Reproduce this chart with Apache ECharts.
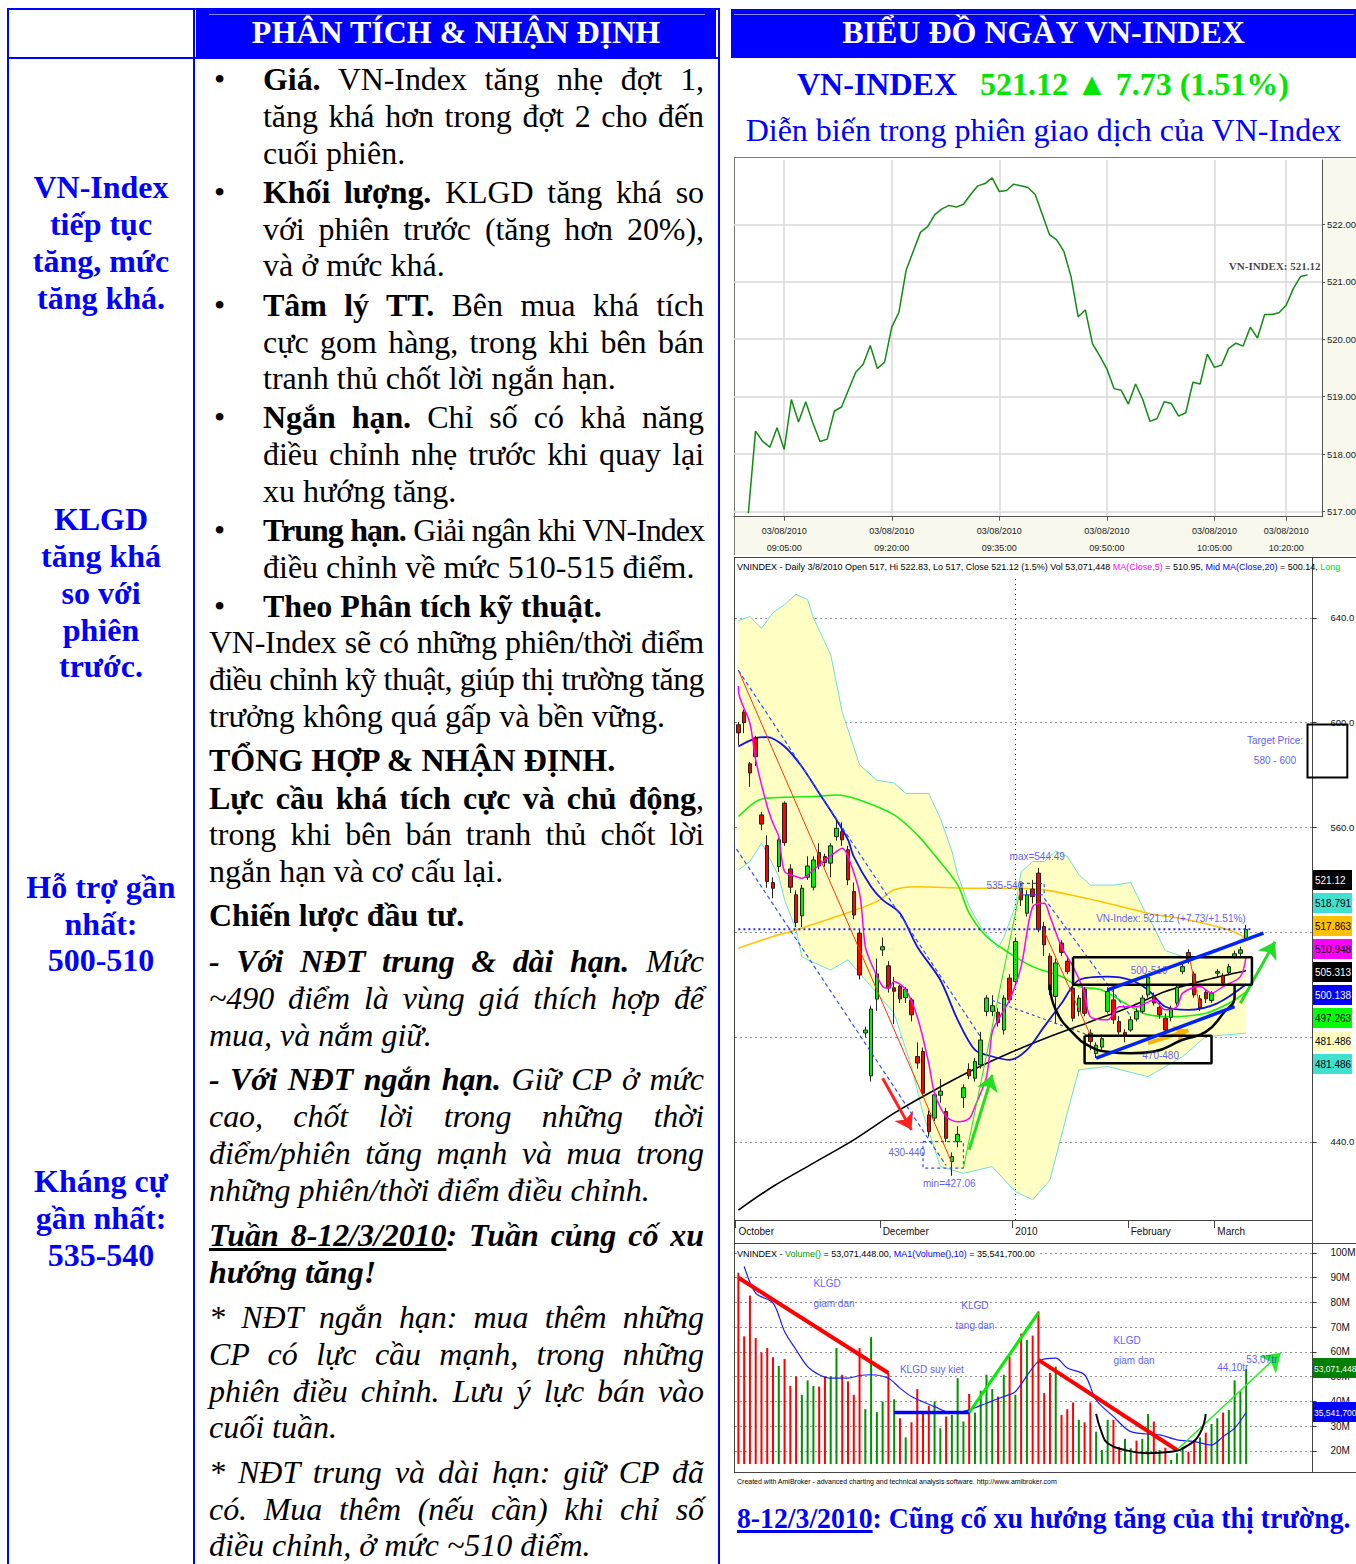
<!DOCTYPE html>
<html lang="vi">
<head>
<meta charset="utf-8">
<title>VN-Index</title>
<script src="https://cdn.jsdelivr.net/npm/echarts@6.0.0/dist/echarts.min.js"></script>
<style>
html,body{margin:0;padding:0;}
body{width:1356px;height:1564px;overflow:hidden;position:relative;background:#fff;font-family:'Liberation Serif','Times New Roman',serif;}
.t{position:absolute;font-family:'Liberation Serif','Times New Roman',serif;font-size:32px;line-height:37px;white-space:nowrap;color:#000;}
.j{text-align:justify;text-align-last:justify;}
.c1{position:absolute;left:8px;width:186px;text-align:center;font-family:'Liberation Serif','Times New Roman',serif;font-size:32px;line-height:37px;font-weight:bold;color:#0000ff;white-space:nowrap;}
.bx{position:absolute;}
.hdt{position:absolute;color:#fff;font-family:'Liberation Serif','Times New Roman',serif;font-weight:bold;font-size:32px;line-height:37px;text-align:center;white-space:nowrap;}
</style>
</head>
<body>
<div class="bx" style="left:7px;top:8px;width:712px;height:2px;background:#0000ff"></div>
<div class="bx" style="left:7px;top:8px;width:2px;height:1556px;background:#0000ff"></div>
<div class="bx" style="left:193px;top:8px;width:2px;height:1556px;background:#0000ff"></div>
<div class="bx" style="left:718px;top:8px;width:2px;height:1556px;background:#0000ff"></div>
<div class="bx" style="left:7px;top:57px;width:712px;height:2px;background:#0000ff"></div>
<div class="bx" style="left:196px;top:10px;width:520px;height:47px;background:#0000ff"></div>
<div class="bx" style="left:731px;top:9px;width:625px;height:49px;background:#0000ff"></div>
<div class="bx" style="left:209px;top:14px;width:496px;height:1px;background:#8a8ad8"></div>
<div class="bx" style="left:734px;top:14px;width:620px;height:1px;background:#8a8ad8"></div>
<div class="hdt" style="left:196px;width:520px;top:14px">PHÂN TÍCH &amp; NHẬN ĐỊNH</div>
<div class="hdt" style="left:731px;width:625px;top:14px">BIỂU ĐỒ NGÀY VN-INDEX</div>

<div class="t" style="left:797px;top:66px;font-weight:bold;color:#0000ff">VN-INDEX</div>
<div class="t" style="left:980px;top:66px;font-weight:bold;color:#00e600">521.12 ▲ 7.73 (1.51%)</div>
<div class="t" style="left:731px;width:625px;top:112px;text-align:center;color:#0000ff">Diễn biến trong phiên giao dịch của VN-Index</div>

<div class="bx" style="left:734px;top:157px;width:622px;height:398px;background:#f8f8ec;border-top:1px solid #777;border-left:1px solid #777;box-sizing:border-box"></div>
<div class="bx" style="left:735px;top:158px;width:588px;height:358px;background:#fff"></div>
<div class="bx" style="left:734px;top:557px;width:622px;height:916px;background:#fff;border-top:1px solid #444;border-left:1px solid #444;border-bottom:1px solid #444;box-sizing:border-box"></div>
<div class="bx" style="left:734px;top:1243px;width:622px;height:1px;background:#444"></div>
<div class="bx" style="left:1312px;top:557px;width:1px;height:915px;background:#444"></div>

<div id="chart" style="position:absolute;left:733px;top:155px;width:623px;height:1340px;"></div>

<div id="foot" style="position:absolute;left:737px;top:1500px;font-family:'Liberation Serif','Times New Roman',serif;font-size:30px;line-height:36px;font-weight:bold;color:#0000ff;white-space:nowrap;transform-origin:left center"><u>8-12/3/2010</u>: Cũng cố xu hướng tăng của thị trường.</div>

<script>
// ---------------- DATA ----------------
const intradayValues = [516.97,518.40,518.22,518.12,518.46,518.08,518.95,518.56,518.91,518.54,518.22,518.26,518.75,518.82,519.13,519.43,519.56,519.89,519.49,519.60,520.21,520.47,521.20,521.53,521.86,521.96,522.17,522.27,522.33,522.30,522.35,522.52,522.67,522.71,522.81,522.57,522.59,522.70,522.67,522.64,522.52,522.17,521.82,521.73,521.53,521.09,520.39,520.51,519.92,519.71,519.48,519.14,519.11,518.87,519.22,518.95,518.57,518.62,518.91,518.88,518.66,518.72,519.25,519.22,519.74,519.51,519.55,519.84,519.93,519.88,520.21,520.02,520.43,520.43,520.46,520.59,520.88,521.09,521.12];
const intradayTickIdx = [5,20,35,50,65,75];
const intradayTickTimes = ['09:05:00','09:20:00','09:35:00','09:50:00','10:05:00','10:20:00'];
const intradayDate = '03/08/2010';
const intradayYTicks = [517,518,519,520,521,522];

// [open, close, low, high]
const dailyOHLC = [
 [599.2,596.1,591.5,600.3],[604.1,600.0,596,605],[584.3,580.8,575.5,585],[594.2,587.0,583.5,595],[564.8,561.3,559,566],
 [553.1,539.4,537,557],[539.0,536.8,533,541],[545.1,555.3,543,556],[569.3,554.2,553,570],[544.2,537.2,535,546],
 [534.3,523.7,522,536],[526.3,536.8,522,538],[541.0,545.3,540,549],[537.2,547.6,536,549],[550.4,545.3,544,554],
 [548.9,546.6,545,550],[546.4,553.0,541,554],[556.5,559.7,555,563],[558.4,555.3,553,562],[551.5,540.0,538,553],
 [535.6,526.6,525,539],[519.7,503.7,502,521],[481.6,482.7,480,484],[465.2,490.7,463,492],[494.5,504.1,490,510],
 [513.3,514.5,511,518],[507.2,498.7,497,509],[498.8,497.5,485,503],[499.4,494.6,493,500],[495.1,498.3,493,499],
 [494.2,488.5,486,495],[472.6,470.1,468,478],[474.5,458.6,457,476],[450.3,443.9,442,452],[449.1,458.0,448,459],
 [457.8,459.4,455,464],[451.6,441.4,440,453],[432.5,434.4,427.06,436],[440.1,442.9,438,446],[456.9,460.7,453,462],
 [467.7,465.2,464,470],[464.3,470.7,463,472],[469.4,478.9,468,482],[489.8,494.9,488,496],[489.8,492.0,488,496],
 [489.5,485.5,484,491],[482.7,494.9,481,496],[502.5,494.2,493,504],[501.2,516.5,500,518],[536.8,532.4,530,539],
 [527.3,534.3,526,536],[536.5,533.6,531,540],[542.6,521.0,520,544.49],[522.2,515.2,511,524],[510.9,498.0,496,512],
 [495.5,508.3,485,510],[515.9,512.3,511,517],[509.0,505.0,504,511],[498.7,487.2,486,500],[489.8,494.9,488,496],
 [498.3,489.1,488,499],[481.5,478.3,475,483],[473.7,476.9,472,478],[476.2,479.4,475,481],[489.8,497.4,489,499],
 [494.2,486.6,485,499],[486.0,482.0,481,488],[481.8,480.3,478,483],[482.7,486.6,482,488],[486.9,489.8,486,491],
 [489.8,494.9,489,496],[496.1,502.9,495,504],[495.5,493.0,492,497],[491.4,488.5,487,493],[487.2,482.7,481,489],
 [487.5,490.6,486,492],[493.0,499.0,492,500],[505.0,506.9,504,508],[512.3,509.5,508,513.5],[504.1,496.1,495,505],
 [494.6,491.1,490,496],[497.1,494.6,493,498],[494.0,496.6,493,497.5],[504.4,505.0,503,506],[503.4,500.6,499.5,504.5],
 [504.6,506.9,504,508],[510.7,511.8,510,513],[512.0,513.3,511,514.5],[517.0,521.12,517,522.83]
];
const dailySlots = 100;
const monthTickIdx = [0,25,48,68,83];
const monthTickLabels = ['October','December','2010','February','March'];
const priceYTicks = [440,480,520,560,600,640];
const priceYLabels = [440,560,600,640]; // 480 and 520 sit behind the value tags

const bbUpper = [[-0.5,639],[2,640.5],[3.6,636],[6,642],[8,645],[10,649],[11.5,647],[13.2,640],[15.6,626],[18.3,604],[21,584],[24,578],[26.5,577],[29.3,573],[32.7,573],[34.8,563.5],[36.5,551],[38.2,542],[40,530],[42,522],[44.5,514],[46,518],[47.5,530],[49,543],[51,547],[53,547],[55,551],[57,549],[59,542],[61,538],[65,538],[68,539],[70,530],[71.5,522],[74.4,513],[78,510],[81,510.7],[85.4,514.5],[88,518.79]];
const bbLower = [[-0.5,543.8],[1.8,547],[3.8,554],[5.3,550.2],[7,541.3],[8.4,532.4],[9.6,520.9],[11,510.7],[12.2,509.5],[15.6,505.6],[19,509.5],[22.5,499.3],[26.5,489.1],[30,468.7],[32,450.9],[34.8,430.6],[38.8,428],[44.4,430.6],[48.4,421],[51.2,417.9],[53.9,425.5],[56.7,451],[59.4,467.5],[64.2,468.8],[71,464.9],[76.5,472.6],[81.3,480.2],[88,481.49]];
const ma5 = [[-0.5,614],[0,612.5],[1.8,599.8],[3,585.8],[5,568],[5.9,561.6],[6.7,556.5],[8.2,543.2],[9.9,541.3],[11,540.6],[13.3,543.8],[15.1,547.6],[16.8,550.8],[17.9,552.1],[19.4,548.9],[20.8,534.9],[22.2,514.5],[22.8,508.2],[24.5,499.3],[25.7,498.7],[27.4,501.2],[29.1,498],[30.9,487.8],[32.6,470],[34.3,458.6],[36,449.7],[37.8,447.7],[40,449],[41.2,453.5],[42.6,464.9],[44.1,482],[45.2,486.6],[47,494.2],[49.2,506.9],[51,529.8],[52.7,531.1],[54.4,526],[56.1,514.5],[57.9,506.9],[60.2,496.8],[61.3,487.8],[63.6,486.6],[65.9,491.6],[69.4,491.6],[71.7,494.2],[74,490.4],[75.7,491.6],[77.4,496.8],[79.7,499.3],[82,496.8],[84.3,499.3],[86.6,503.1],[88,510.95]];
const ma20 = [[-0.5,590.9],[3,594.1],[4.7,594.5],[7.6,590.9],[11,583.2],[13.9,573.1],[16.8,562.9],[18.5,555.3],[20.2,548.9],[22.5,537.4],[25.2,532.4],[28,527.3],[31.3,514.5],[34.8,501.8],[38.2,486.6],[40.9,475.1],[43.7,472.6],[47.1,471.3],[49.8,475.1],[53.2,484],[56,492.9],[59.4,501.8],[63.5,503.1],[67.6,501.8],[71,498],[74.4,491.6],[77.9,490.4],[82.6,492.9],[88,500.14]];
const ma50 = [[-0.5,564.2],[2.6,569.9],[5.3,571.2],[12.9,571.8],[16.8,572.4],[21.4,570.5],[26.5,564.8],[30.7,557.2],[34.1,549.5],[37.5,538.1],[40.2,527.3],[43,518.4],[47.1,512],[51.2,506.9],[56,503.1],[59.4,499.3],[62.8,498],[67.6,491.6],[71,488.5],[75.1,487.8],[81.3,489.1],[85.4,492.9],[88,497.26]];
const ma100 = [[-0.5,513.9],[6,518.4],[9.9,520.9],[16.8,526],[23.7,531.7],[26.5,536.2],[31.3,537.4],[40.2,536.8],[47.1,536.8],[53.2,536.2],[59.4,533.6],[64.2,531.1],[71,527.3],[77.9,524.7],[84.7,520.9],[88,517.86]];
const maLong = [[-0.5,414],[6,423],[12.9,431.9],[19.7,440.8],[26.5,451],[33.4,458.6],[40.2,466.8],[47.1,473.9],[53.9,480.2],[60.7,485.9],[67.6,491.6],[74.4,497.4],[81.3,501.8],[88,505.31]];

// volume in millions of shares
const volumes = [92.0,66.3,82.8,65.6,59.8,61.6,57.9,54.4,57.2,46.3,50.1,42.7,48.5,46.3,46.0,50.1,50.1,61.6,50.8,48.1,42.7,61.6,36.9,66.0,35.7,40.0,51.5,40.9,33.2,25.5,31.6,45.0,35.5,38.2,40.0,29.2,33.9,34.6,49.4,31.9,43.1,35.5,44.4,50.8,45.0,42.0,50.8,58.2,42.7,67.4,64.9,66.6,76.4,43.4,51.5,54.1,34.6,36.9,39.6,32.6,31.6,39.6,27.8,20.4,32.6,32.6,21.7,24.9,21.1,24.2,24.9,34.9,31.9,20.4,21.3,16.4,19.1,21.7,19.7,24.5,25.5,27.4,30.9,33.2,35.5,36.6,48.5,44.1,53.07];
const volumeUp = [0,0,0,0,0,0,0,1,0,0, 0,1,1,1,0,0,1,1,0,0, 0,0,1,1,1,1,0,1,0,1, 0,0,0,0,1,1,0,1,1,1, 0,1,1,1,1,0,1,0,1,0, 1,0,0,0,0,1,0,0,0,1, 0,0,1,1,1,0,0,1,1,0, 1,1,0,1,0,1,1,1,0,0, 1,0,1,1,0,1,1,1,1];
const volMA10 = [[1.2,94.6],[3.2,83.8],[5.5,79.8],[7.8,68.3],[9.5,60.9],[11.8,54.1],[13.6,50.8],[16,49.4],[18.8,49.4],[20.5,50.5],[22.9,50.8],[25.7,49.4],[28,45.4],[30.4,42],[33.8,37.9],[37,35.3],[39.5,36.6],[43,39.3],[45.9,42],[48.2,44],[52.2,56.2],[55.1,57.5],[57.4,53.5],[59.7,50.8],[62,40.6],[64.8,33.9],[68.3,27.8],[72.9,26.5],[75.8,24.5],[79.3,23.8],[81.6,22.4],[83.8,25.8],[86.2,29.2],[88,35.54]];
const volYTicks = [20,30,40,50,60,70,80,90,100];

// annotation shapes (data coordinates: [slot index, value])
const redTrendA = [[0,620],[36.7,432]];
const redTrendB = [[53,520.3],[60.7,480.8]];
const redTrendC = [[78,512],[79.7,491.5]];
const greenThin = [[38.5,430],[49,538]];
const dashUpper = [[0,620],[42,480]];
const dashLower = [[-0.6,554],[35.6,431]];
const dashFromMax = [[52.5,533],[67.5,488]];
const dashFromLow = [[43.5,494],[60.5,480.5]];
const closeLevel = [[-0.5,521.12],[89.3,521.12]];
const channelUpper = [[63.8,498],[91,519.7]];
const channelLower = [[61.8,472],[85.8,491.6]];
const box500 = [[57.7,510.5],[88.7,510.5],[88.7,500],[57.7,500],[57.7,510.5]];
const box470 = [[59.7,480.5],[81.8,480.5],[81.8,470],[59.7,470],[59.7,480.5]];
const box430 = [[31.9,440.1],[38.7,440.1],[38.7,430],[31.9,430],[31.9,440.1]];
const box535 = [[49,538.7],[52.7,538.7],[52.7,534.3],[49,534.3],[49,538.7]];
const targetBox = [[98.2,600.3],[105.1,580]];
const priceArc = [[54.2,500],[55,490.4],[57.9,481.5],[60.7,476.4],[64.2,474.4],[68,473.8],[72,474.5],[77.4,479],[81.4,482],[84.3,489],[85.7,495.5],[85.9,500]];
const arrowRed = [[24.8,464.3],[29.6,444.6]];
const arrowGreenA = [[39.9,437],[43.7,465.6]];
const arrowGreenB = [[86.8,492.9],[92.6,516.4]];
const arrowOrange = [[71,477.7],[77.5,482.6]];
const priceTexts = [
 ['max=544.49',47.1,548.8,'l'],['535-540',43.1,537.7,'l'],['VN-Index: 521.12 (+7.73/+1.51%)',61.8,525.1,'l'],
 ['500-510',67.9,505.6,'l'],['470-480',70.2,473.1,'l'],['430-440',25.7,435.8,'l'],['min=427.06',31.8,424,'l'],
 ['Target Price:\n580 - 600',92.6,589.5,'c']
];
const volRed1 = [[0,90],[26,51.5]];
const volBlue = [[27,35.5],[40,35.5]];
const volGreen = [[40,35.5],[52.2,75.9]];
const volRed2 = [[52.2,56.8],[75.5,20.4]];
const volArrow = [[75.5,20.4],[93.8,59.7]];
const volArc = [[61.9,35],[62.8,27.2],[64.2,23.1],[67.1,20.4],[71.1,19.1],[75.1,19.7],[78,22.4],[80,27.2],[80.9,35]];
const volTexts = [
 ['KLGD\ngiam dan',12.76,83.6,'l'],['KLGD\ntang dan',41.2,74.7,'c'],['KLGD suy kiet',27.6,52.8,'l'],
 ['KLGD\ngiam dan',65.1,60.5,'l'],['44,10tr',83.1,53.6,'l'],['53,07tr',88.3,56.8,'l']
];
const priceTags = [['521.12','#000000','#ffffff'],['518.791','#40e0d0','#000'],['517.863','#ffc000','#000'],['510.948','#ff00ff','#000'],['505.313','#000000','#ffffff'],['500.138','#0000ff','#ffffff'],['497.263','#00ff00','#000'],['481.486','#ffffc0','#000'],['481.486','#40e0d0','#000']];
const volTags = [['53,071,448','#008000','#ffffff'],['35,541,700','#0000ff','#ffffff']];

// ---------------- TEXT COLUMNS ----------------
const col1Lines = [[188,'VN-Index'],[225,'tiếp tục'],[262,'tăng, mức'],[299,'tăng khá.'],[520,'KLGD'],[557,'tăng khá'],[594,'so với'],[631,'phiên'],[667,'trước.'],[888,'Hỗ trợ gần'],[925,'nhất:'],[961,'500-510'],[1182,'Kháng cự'],[1219,'gần nhất:'],[1256,'535-540']];
const midLines = [
 [80,'b','j','<b>Giá.</b> VN-Index tăng nhẹ đợt 1,'],
 [117,'i','j','tăng khá hơn trong đợt 2 cho đến'],
 [154,'i','l','cuối phiên.'],
 [193,'b','j','<b>Khối lượng.</b> KLGD tăng khá so'],
 [230,'i','j','với phiên trước (tăng hơn 20%),'],
 [266,'i','l','và ở mức khá.'],
 [306,'b','j','<b>Tâm lý TT.</b> Bên mua khá tích'],
 [343,'i','j','cực gom hàng, trong khi bên bán'],
 [379,'i','l','tranh thủ chốt lời ngắn hạn.'],
 [418,'b','j','<b>Ngắn hạn.</b> Chỉ số có khả năng'],
 [455,'i','j','điều chỉnh nhẹ trước khi quay lại'],
 [492,'i','l','xu hướng tăng.'],
 [531,'b','j','<b>Trung hạn.</b> Giải ngân khi VN-Index'],
 [568,'i','l','điều chỉnh về mức 510-515 điểm.'],
 [607,'b','l','<b>Theo Phân tích kỹ thuật.</b>'],
 [643,'f','j','VN-Index sẽ có những phiên/thời điểm'],
 [680,'f','j','điều chỉnh kỹ thuật, giúp thị trường tăng'],
 [717,'f','l','trưởng không quá gấp và bền vững.'],
 [761,'f','l','<b>TỔNG HỢP &amp; NHẬN ĐỊNH.</b>'],
 [799,'f','j','<b>Lực cầu khá tích cực và chủ động</b>,'],
 [835,'f','j','trong khi bên bán tranh thủ chốt lời'],
 [872,'f','l','ngắn hạn và cơ cấu lại.'],
 [916,'f','l','<b>Chiến lược đầu tư.</b>'],
 [962,'f','j','<b><i>- Với NĐT trung &amp; dài hạn.</i></b> <i>Mức</i>'],
 [999,'f','j','<i>~490 điểm là vùng giá thích hợp để</i>'],
 [1036,'f','l','<i>mua, và nắm giữ.</i>'],
 [1080,'f','j','<b><i>- Với NĐT ngắn hạn.</i></b> <i>Giữ CP ở mức</i>'],
 [1117,'f','j','<i>cao, chốt lời trong những thời</i>'],
 [1154,'f','j','<i>điểm/phiên tăng mạnh và mua trong</i>'],
 [1191,'f','l','<i>những phiên/thời điểm điều chỉnh.</i>'],
 [1236,'f','j','<b><i><u>Tuần 8-12/3/2010</u>: Tuần củng cố xu</i></b>'],
 [1273,'f','l','<b><i>hướng tăng!</i></b>'],
 [1318,'f','j','<i>* NĐT ngắn hạn: mua thêm những</i>'],
 [1355,'f','j','<i>CP có lực cầu mạnh, trong những</i>'],
 [1392,'f','j','<i>phiên điều chỉnh. Lưu ý lực bán vào</i>'],
 [1428,'f','l','<i>cuối tuần.</i>'],
 [1473,'f','j','<i>* NĐT trung và dài hạn: giữ CP đã</i>'],
 [1510,'f','j','<i>có. Mua thêm (nếu cần) khi chỉ số</i>'],
 [1546,'f','l','<i>điều chỉnh, ở mức ~510 điểm.</i>']
];
(function buildText(){
  col1Lines.forEach(([y,txt])=>{
    const d=document.createElement('div'); d.className='c1'; d.style.top=(y-19)+'px'; d.textContent=txt; document.body.appendChild(d);
  });
  midLines.forEach(([y,kind,al,html])=>{
    const d=document.createElement('div'); d.className='t'+(al==='j'?' j':'');
    const left = kind==='f'?209:263, width = kind==='f'?495:441;
    d.style.left=left+'px'; d.style.width=width+'px'; d.style.top=(y-19)+'px';
    const s=document.createElement('span'); s.innerHTML=html; d.appendChild(s);
    document.body.appendChild(d);
    const w=s.getBoundingClientRect().width;
    if(w>width-2){ const n=s.textContent.length; d.style.letterSpacing=((width-2-w)/n).toFixed(3)+'px'; }
    if(kind==='b'){ const b=document.createElement('div'); b.className='t'; b.style.left='214px'; b.style.top=(y-19)+'px'; b.textContent='•'; document.body.appendChild(b); }
  });
  const f=document.getElementById('foot'); const w=f.scrollWidth; f.style.transform='scaleX('+(613/w)+')';
})();

// ---------------- CHART ----------------
const SANS = "'Liberation Sans',Arial,sans-serif";
const PAD = 2;
const intradayCats = []; for (let k=0;k<intradayValues.length+2*PAD;k++) intradayCats.push('t'+k);
const intradayData = Array(PAD).fill(null).concat(intradayValues, Array(PAD).fill(null));
const tickSet0 = new Set(intradayTickIdx.map(i=>i+PAD));
const tickLabel0 = {}; intradayTickIdx.forEach((i,n)=>{ tickLabel0['t'+(i+PAD)] = intradayDate+'\n'+intradayTickTimes[n]; });
const dailyCats = []; for (let k=0;k<dailySlots;k++) dailyCats.push('d'+k);
const monthSet = new Set(monthTickIdx);
const monthLabel = {}; monthTickIdx.forEach((i,n)=>{ monthLabel['d'+i]=monthTickLabels[n]; });

function seg(pts, color, width, opts){
  return Object.assign({type:'line', xAxisIndex:1, yAxisIndex:1, data:pts, symbol:'none', silent:true, z:6,
    lineStyle:{color:color, width:width, type:'solid'}}, opts||{});
}
function arrow(pts, color, width, size, ax){
  return {type:'line', xAxisIndex:ax, yAxisIndex:ax, data:[], silent:true, z:7,
    markLine:{silent:true, animation:false, symbol:['none','arrow'], symbolSize:size, label:{show:false},
      lineStyle:{color:color, width:width, type:'solid'}, itemStyle:{color:color}, emphasis:{disabled:true},
      data:[[{coord:pts[0]},{coord:pts[1]}]]}};
}
function texts(list, ax, color, size){
  return {type:'scatter', xAxisIndex:ax, yAxisIndex:ax, symbolSize:0, silent:true, z:8,
    data:list.map(t=>({value:[t[1],t[2]], name:t[0], label:{show:true, formatter:t[0], position: t[3]==='c'?'inside':'right', distance:0,
      align: t[3]==='c'?'center':'left', color:color, fontFamily:SANS, fontSize:size, lineHeight:size+10}}))};
}

const chart = echarts.init(document.getElementById('chart'), null, {renderer:'svg', width:623, height:1340});
const richBase = {fontFamily:SANS, fontSize:9, color:'#000', fontWeight:'normal'};
const option = {
  animation:false,
  title:[
    {left:4, top:407, padding:0, text:'{k|VNINDEX - Daily 3/8/2010 Open 517, Hi 522.83, Lo 517, Close 521.12 (1.5%) Vol 53,071,448 }{m|MA(Close,5)}{k| = 510.95, }{b|Mid MA(Close,20)}{k| = 500.14, }{g|Long}',
      textStyle:{fontWeight:'normal', rich:{k:richBase, m:Object.assign({},richBase,{color:'#ff00ff'}), b:Object.assign({},richBase,{color:'#0000ff'}), g:Object.assign({},richBase,{color:'#00dd00'})}}},
    {left:4, top:1094, padding:[0,2,0,0], backgroundColor:'#fff', text:'{k|VNINDEX - }{g|Volume()}{k| = 53,071,448.00, }{b|MA1(Volume(),10)}{k| = 35,541,700.00}',
      textStyle:{fontWeight:'normal', rich:{k:richBase, g:Object.assign({},richBase,{color:'#009900'}), b:Object.assign({},richBase,{color:'#0000ff'})}}},
    {left:4, top:1323, padding:0, text:'Created with AmiBroker - advanced charting and technical analysis software. http://www.amibroker.com',
      textStyle:{fontFamily:SANS, fontSize:7, fontWeight:'normal', color:'#000'}}
  ],
  grid:[
    {left:1, top:5, width:588, height:356.7, outerBoundsMode:'none', containLabel:false},
    {left:2.5, top:422, width:577, height:643, outerBoundsMode:'none', containLabel:false},
    {left:2.5, top:1092, width:577, height:217, outerBoundsMode:'none', containLabel:false}
  ],
  xAxis:[
    {gridIndex:0, type:'category', data:intradayCats, boundaryGap:false,
      axisLine:{show:true, lineStyle:{color:'#555'}},
      axisTick:{show:true, interval:(i)=>tickSet0.has(i), length:4, lineStyle:{color:'#555'}},
      axisLabel:{interval:(i)=>tickSet0.has(i), formatter:(v)=>tickLabel0[v]||'', fontFamily:SANS, fontSize:9, color:'#222', lineHeight:17, margin:6},
      splitLine:{show:true, interval:(i)=>tickSet0.has(i), lineStyle:{color:'#d9d9d9', width:1.5}}},
    {gridIndex:1, type:'category', data:dailyCats, boundaryGap:true,
      axisLine:{show:true, lineStyle:{color:'#444'}},
      axisTick:{show:true, interval:(i)=>monthSet.has(i), length:8, lineStyle:{color:'#444'}},
      axisLabel:{interval:(i)=>monthSet.has(i), formatter:(v)=>monthLabel[v]||'', align:'left', fontFamily:SANS, fontSize:10, color:'#111', margin:6},
      splitLine:{show:false}},
    {gridIndex:2, type:'category', data:dailyCats, boundaryGap:true, show:false}
  ],
  yAxis:[
    {gridIndex:0, type:'value', position:'right', min:516.91, max:523.12,
      axisLine:{show:true, lineStyle:{color:'#555'}},
      axisTick:{show:true, customValues:intradayYTicks, length:3, lineStyle:{color:'#555'}},
      axisLabel:{customValues:intradayYTicks, formatter:(v)=>v.toFixed(2), fontFamily:SANS, fontSize:9.5, color:'#222', margin:5},
      splitLine:{show:true, lineStyle:{color:'#d9d9d9', width:1.5}}},
    {gridIndex:1, type:'value', position:'right', min:410.2, max:655.6,
      axisLine:{show:false},
      axisTick:{show:true, customValues:priceYTicks, length:4, lineStyle:{color:'#333'}},
      axisLabel:{customValues:priceYLabels, formatter:(v)=>v.toFixed(1), fontFamily:SANS, fontSize:9.5, color:'#111', margin:18},
      splitLine:{show:true, lineStyle:{color:'#222', width:1, type:[1,4]}}},
    {gridIndex:2, type:'value', position:'right', min:14.74, max:102.4,
      axisLine:{show:false},
      axisTick:{show:true, customValues:volYTicks, length:4, lineStyle:{color:'#333'}},
      axisLabel:{customValues:volYTicks, formatter:(v)=>v+'M', fontFamily:SANS, fontSize:10, color:'#111', margin:18},
      splitLine:{show:true, lineStyle:{color:'#222', width:1, type:[1,4]}}}
  ],
  series:[
    {type:'line', xAxisIndex:0, yAxisIndex:0, data:intradayData, symbol:'none', z:3, lineStyle:{color:'#138a13', width:1.5}},
    {type:'scatter', xAxisIndex:0, yAxisIndex:0, symbolSize:0, silent:true, z:4,
      data:[{value:[PAD+intradayValues.length-1, intradayValues[intradayValues.length-1]], name:'VN-INDEX: 521.12'}],
      label:{show:true, formatter:'VN-INDEX: 521.12', position:'top', distance:3, offset:[-33,0], fontFamily:"'Liberation Serif',serif", fontWeight:'bold', fontSize:11, color:'#111'}},
    {type:'custom', xAxisIndex:1, yAxisIndex:1, data:[[0,500]], z:1, silent:true, clip:true,
      renderItem:(params, api)=>{
        const pts = bbUpper.map(p=>api.coord(p)).concat(bbLower.slice().reverse().map(p=>api.coord(p)));
        return {type:'polygon', shape:{points:pts}, style:{fill:'#ffffc4', stroke:null}};
      }},
    seg(bbUpper,'#6ddcdc',1,{z:2}),
    seg(bbLower,'#6ddcdc',1,{z:2}),
    seg(maLong,'#000000',1.6,{z:2, smooth:0.3}),
    seg(ma100,'#ffc400',1.6,{z:2, smooth:0.3}),
    seg(ma50,'#11ee11',1.6,{z:2, smooth:0.3}),
    seg(ma20,'#1010ee',1.8,{z:2, smooth:0.3}),
    {type:'candlestick', xAxisIndex:1, yAxisIndex:1, data:dailyOHLC, barWidth:4, z:3, silent:true,
      itemStyle:{color:'#00ee00', color0:'#ff0000', borderColor:'#222', borderColor0:'#222', borderWidth:1}},
    seg(ma5,'#ff00ff',1.5,{z:4, smooth:0.3}),
    seg(redTrendA,'#ff3300',1),
    seg(redTrendB,'#ff3300',1),
    seg(redTrendC,'#ff3300',1),
    seg(greenThin,'#22dd22',1),
    seg(dashUpper,'#2f4fff',1.2,{lineStyle:{color:'#2f4fff', width:1.2, type:[4,3]}}),
    seg(dashLower,'#2f4fff',1.2,{lineStyle:{color:'#2f4fff', width:1.2, type:[4,3]}}),
    seg(dashFromMax,'#2f4fff',1.2,{lineStyle:{color:'#2f4fff', width:1.2, type:[4,3]}}),
    seg(dashFromLow,'#2f4fff',1.2,{lineStyle:{color:'#2f4fff', width:1.2, type:[3,3]}}),
    seg(closeLevel,'#2a2aff',2,{lineStyle:{color:'#2a2aff', width:2, type:[2,3]}}),
    seg(box430,'#2f4fff',1.2,{lineStyle:{color:'#2f4fff', width:1.2, type:[3,3]}}),
    seg(box535,'#2f4fff',1.2,{lineStyle:{color:'#2f4fff', width:1.2, type:[3,3]}}),
    seg(box500,'#000000',2.5),
    seg(box470,'#000000',2.5),
    seg(priceArc,'#000000',2.5,{smooth:0.5}),
    seg(channelUpper,'#0022ff',3.5),
    seg(channelLower,'#0022ff',3.5),
    arrow(arrowRed,'#ff2020',3,16,1),
    arrow(arrowGreenA,'#22dd22',3,16,1),
    arrow(arrowGreenB,'#22dd22',3,16,1),
    arrow(arrowOrange,'#ffb000',4,14,1),
    texts(priceTexts,1,'#3030ff',10),
    {type:'line', xAxisIndex:1, yAxisIndex:1, data:[], silent:true, z:5,
      markLine:{silent:true, animation:false, symbol:['none','none'], label:{show:false},
        lineStyle:{color:'#222', width:1, type:[1,4]}, data:[{xAxis:47.5}]}},
    {type:'bar', xAxisIndex:2, yAxisIndex:2, barWidth:2, silent:true, z:2,
      data:volumes.map((v,i)=>({value:v, itemStyle:{color: volumeUp[i] ? '#009000' : '#ff0000'}}))},
    Object.assign(seg(volMA10,'#1a1aff',1.2,{smooth:0.3, z:3}),{xAxisIndex:2, yAxisIndex:2}),
    Object.assign(seg(volRed1,'#ff0000',4),{xAxisIndex:2, yAxisIndex:2}),
    Object.assign(seg(volBlue,'#0000ff',3.5),{xAxisIndex:2, yAxisIndex:2}),
    Object.assign(seg(volGreen,'#00ee00',3),{xAxisIndex:2, yAxisIndex:2}),
    Object.assign(seg(volRed2,'#ff0000',4),{xAxisIndex:2, yAxisIndex:2}),
    Object.assign(seg(volArc,'#000000',2,{smooth:0.5}),{xAxisIndex:2, yAxisIndex:2}),
    arrow(volArrow,'#22ee22',1.5,18,2),
    texts(volTexts,2,'#3030ff',10)
  ],
  graphic: []
};
const g = [];
priceTags.forEach((t,n)=>{
  const y = 870 - 155 + n*23;
  g.push({type:'rect', left:580, top:y, shape:{width:39, height:20}, style:{fill:t[1]}, z:100});
  g.push({type:'text', left:582, top:y+5, style:{text:t[0], fill:t[2], font:"10px "+SANS}, z:101});
});
volTags.forEach((t,n)=>{
  const y = (n===0?1358:1402) - 155;
  g.push({type:'rect', left:580, top:y, shape:{width:43, height:20}, style:{fill:t[1]}, z:100});
  g.push({type:'text', left:581, top:y+6, style:{text:t[0], fill:t[2], font:"8.5px "+SANS}, z:101});
});
option.graphic = g;
chart.setOption(option);
// Target price box (outside the plot): placed with the price axis scale
(function(){
  const a = chart.convertToPixel({xAxisIndex:1, yAxisIndex:1}, [98, targetBox[0][1]]);
  const b = chart.convertToPixel({xAxisIndex:1, yAxisIndex:1}, [99, targetBox[1][1]]);
  const step = b[0]-a[0];
  const x1 = a[0] + (targetBox[0][0]-98)*step, x2 = a[0] + (targetBox[1][0]-98)*step;
  g.push({type:'rect', left:x1, top:a[1], shape:{width:x2-x1, height:b[1]-a[1]}, style:{fill:'none', stroke:'#000', lineWidth:2}, z:90});
  chart.setOption({graphic:g});
})();
</script>
</body>
</html>
